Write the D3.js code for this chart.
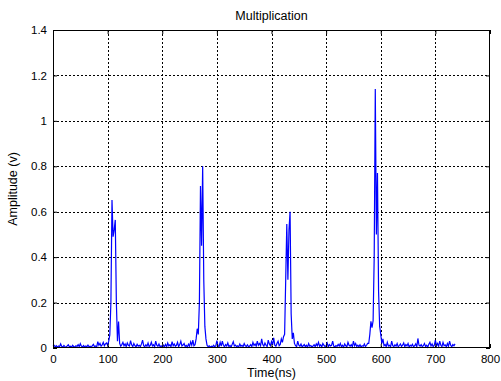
<!DOCTYPE html>
<html>
<head>
<meta charset="utf-8">
<script src="https://cdn.jsdelivr.net/npm/d3@7"></script>
<style>
  body { margin: 0; background: #fff; }
  text { font-family: "Liberation Sans", Arial, sans-serif; }
</style>
</head>
<body>
<svg id="chart"></svg>
<script>
// Sampling of the signal (ns)
const startTime = 0;
const sampleStep = 2;

// Amplitude (v), one value every 2 ns from 0 to 736 ns
const amplitude = [
  0.008,0.012,0.005,0.010,0.004,0.009,0.006,0.018,0.007,0.004,
  0.011,0.006,0.003,0.009,0.014,0.005,0.008,0.004,0.012,0.006,
  0.004,0.010,0.007,0.015,0.006,0.019,0.008,0.005,0.011,0.004,
  0.009,0.006,0.013,0.005,0.008,0.003,0.010,0.016,0.006,0.009,
  0.005,0.028,0.012,0.020,0.008,0.014,0.025,0.010,0.018,0.022,
  0.012,0.030,0.058,0.200,0.652,0.490,0.520,0.564,0.200,0.030,
  0.117,0.020,0.008,0.015,0.025,0.010,0.018,0.006,0.022,0.012,
  0.009,0.032,0.014,0.006,0.020,0.010,0.005,0.016,0.008,0.012,
  0.006,0.018,0.035,0.010,0.005,0.014,0.008,0.022,0.006,0.011,
  0.025,0.009,0.014,0.005,0.030,0.012,0.008,0.018,0.006,0.010,
  0.004,0.012,0.007,0.016,0.005,0.022,0.009,0.014,0.006,0.028,
  0.010,0.018,0.008,0.012,0.025,0.006,0.015,0.030,0.009,0.013,
  0.020,0.007,0.011,0.004,0.017,0.008,0.027,0.012,0.035,0.010,
  0.015,0.040,0.085,0.060,0.200,0.713,0.450,0.800,0.300,0.095,
  0.040,0.012,0.006,0.010,0.004,0.008,0.005,0.012,0.006,0.009,
  0.032,0.010,0.006,0.025,0.008,0.030,0.012,0.005,0.015,0.009,
  0.022,0.006,0.011,0.004,0.016,0.028,0.009,0.013,0.006,0.010,
  0.005,0.018,0.008,0.012,0.006,0.020,0.010,0.007,0.014,0.005,
  0.009,0.015,0.006,0.025,0.011,0.018,0.008,0.030,0.012,0.020,
  0.010,0.040,0.015,0.008,0.022,0.012,0.006,0.035,0.018,0.010,
  0.028,0.014,0.045,0.012,0.008,0.020,0.030,0.010,0.016,0.040,
  0.025,0.050,0.060,0.300,0.546,0.300,0.520,0.600,0.150,0.040,
  0.067,0.020,0.010,0.006,0.030,0.012,0.008,0.018,0.005,0.010,
  0.015,0.006,0.012,0.004,0.020,0.008,0.011,0.005,0.009,0.014,
  0.006,0.018,0.010,0.025,0.008,0.014,0.005,0.020,0.012,0.007,
  0.010,0.022,0.006,0.015,0.009,0.012,0.030,0.008,0.005,0.011,
  0.007,0.016,0.009,0.020,0.006,0.012,0.004,0.018,0.010,0.006,
  0.025,0.012,0.008,0.015,0.005,0.030,0.010,0.020,0.007,0.012,
  0.006,0.014,0.004,0.010,0.008,0.018,0.006,0.012,0.020,0.020,
  0.060,0.117,0.090,0.120,0.400,1.140,0.500,0.770,0.250,0.095,
  0.060,0.020,0.040,0.010,0.015,0.006,0.025,0.009,0.012,0.005,
  0.030,0.010,0.006,0.014,0.008,0.020,0.005,0.011,0.018,0.007,
  0.012,0.022,0.006,0.015,0.009,0.020,0.004,0.012,0.008,0.016,
  0.006,0.010,0.018,0.005,0.042,0.012,0.008,0.015,0.006,0.010,
  0.020,0.007,0.012,0.004,0.016,0.025,0.009,0.018,0.006,0.012,
  0.035,0.010,0.020,0.008,0.030,0.012,0.006,0.025,0.010,0.014,
  0.005,0.020,0.008,0.030,0.012,0.006,0.015,0.010,0.018
];

// Axis ticks
const xTicks = [0, 100, 200, 300, 400, 500, 600, 700, 800];
const yTicks = [0, 0.2, 0.4, 0.6, 0.8, 1, 1.2, 1.4];

const width = 501, height = 381;
const margin = { top: 30, right: 11, bottom: 33, left: 53 };

const svg = d3.select("#chart")
    .attr("width", width)
    .attr("height", height);

const x = d3.scaleLinear().domain([0, 800]).range([margin.left, width - margin.right]);
const y = d3.scaleLinear().domain([0, 1.4]).range([height - margin.bottom, margin.top]);

const data = amplitude.map((v, i) => ({ t: startTime + i * sampleStep, v: v }));

// Grid lines (dotted, MATLAB style)
const grid = svg.append("g").attr("stroke", "#000").attr("stroke-width", 1)
    .attr("stroke-dasharray", "2,2").attr("shape-rendering", "crispEdges");
grid.selectAll(".gx").data(xTicks.slice(1, -1)).enter().append("line")
    .attr("x1", d => Math.round(x(d)) + 0.5).attr("x2", d => Math.round(x(d)) + 0.5)
    .attr("y1", y(1.4)).attr("y2", y(0));
grid.selectAll(".gy").data(yTicks.slice(1, -1)).enter().append("line")
    .attr("y1", d => Math.round(y(d)) + 0.5).attr("y2", d => Math.round(y(d)) + 0.5)
    .attr("x1", x(0)).attr("x2", x(800));

// Signal line
const line = d3.line().x(d => x(d.t)).y(d => y(d.v));
svg.append("path")
    .datum(data)
    .attr("fill", "none")
    .attr("stroke", "#0000ff")
    .attr("stroke-width", 1.2)
    .attr("d", line);

// Axes box
svg.append("rect")
    .attr("x", x(0) + 0.5).attr("y", y(1.4) + 0.5)
    .attr("width", x(800) - x(0) - 1).attr("height", y(0) - y(1.4) - 1)
    .attr("fill", "none").attr("stroke", "#000").attr("stroke-width", 1)
    .attr("shape-rendering", "crispEdges");

// Ticks inside the box
const xAxis = d3.axisBottom(x).tickValues(xTicks).tickSize(-4).tickPadding(7).tickFormat(d3.format("d"));
const gx = svg.append("g").attr("transform", `translate(0,${y(0)})`).call(xAxis);
const xAxisTop = d3.axisTop(x).tickValues(xTicks).tickSize(-4).tickFormat("");
const gxt = svg.append("g").attr("transform", `translate(0,${y(1.4)})`).call(xAxisTop);
const yAxis = d3.axisLeft(y).tickValues(yTicks).tickSize(-4).tickPadding(6).tickFormat(d => d3.format("")(+d.toFixed(1)));
const gy = svg.append("g").attr("transform", `translate(${x(0)},0)`).call(yAxis);
const yAxisRight = d3.axisRight(y).tickValues(yTicks).tickSize(-4).tickFormat("");
const gyr = svg.append("g").attr("transform", `translate(${x(800)},0)`).call(yAxisRight);

[gx, gxt, gy, gyr].forEach(g => {
    g.select(".domain").remove();
    g.selectAll(".tick line").attr("stroke", "#000");
    g.selectAll("text").attr("font-size", 11.5).attr("fill", "#000")
        .style("font-family", "'Liberation Sans', Arial, sans-serif");
});

// Title and labels
svg.append("text")
    .attr("x", (x(0) + x(800)) / 2).attr("y", 20)
    .attr("text-anchor", "middle").attr("font-size", 12.5)
    .text("Multiplication");

svg.append("text")
    .attr("x", (x(0) + x(800)) / 2).attr("y", 377)
    .attr("text-anchor", "middle").attr("font-size", 12.5)
    .text("Time(ns)");

svg.append("text")
    .attr("transform", `translate(17,${(y(0) + y(1.4)) / 2}) rotate(-90)`)
    .attr("text-anchor", "middle").attr("font-size", 12.5)
    .text("Amplitude (v)");
</script>
</body>
</html>
